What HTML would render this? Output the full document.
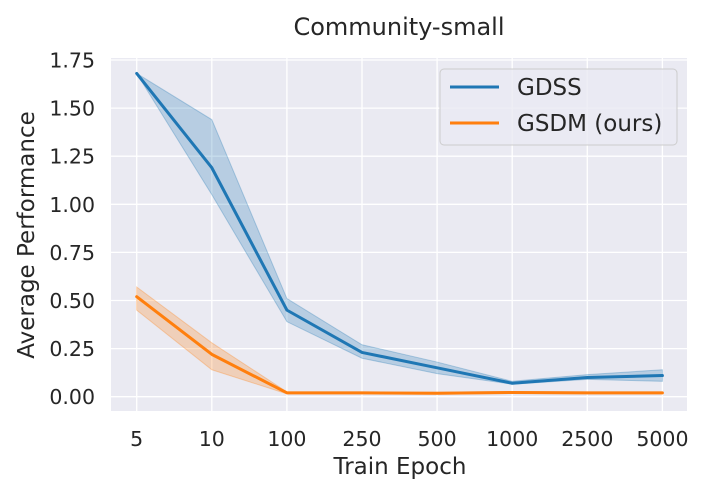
<!DOCTYPE html>
<html><head><meta charset="utf-8"><style>
body{margin:0;background:#fff;}
svg{display:block;font-family:"DejaVu Sans","Liberation Sans",sans-serif;}
</style></head><body>
<svg id="chart" width="705" height="495">
<rect x="111" y="58" width="576" height="353" fill="#eaeaf2"/>
<g id="grid"></g>
<g id="bands"></g>
<g id="lines"></g>
<g id="ticks" font-size="20.5" fill="#262626"></g>
<text x="399" y="35" text-anchor="middle" font-size="24" fill="#262626">Community-small</text>
<text x="400" y="474" text-anchor="middle" font-size="23" fill="#262626">Train Epoch</text>
<text transform="translate(34,235) rotate(-90)" text-anchor="middle" font-size="23" fill="#262626">Average Performance</text>
<g>
<rect x="440" y="69" width="237" height="76" rx="4" fill="#eaeaf2" fill-opacity="0.8" stroke="#cccccc"/>
<g><line x1="450" y1="87" x2="499" y2="87" stroke="#1f77b4" stroke-width="3"/><text x="517" y="95" font-size="23" fill="#262626">GDSS</text></g>
<g><line x1="450" y1="123" x2="499" y2="123" stroke="#ff7f0e" stroke-width="3"/><text x="517" y="131" font-size="23" fill="#262626">GSDM (ours)</text></g>
</g>
</svg>
<script>
const categories=["5","10","100","250","500","1000","2500","5000"];
const gdss=[1.68,1.19,0.45,0.23,0.15,0.07,0.10,0.11];
const gdssUpper=[1.68,1.44,0.51,0.27,0.18,0.08,0.115,0.14];
const gdssLower=[1.68,1.05,0.39,0.20,0.12,0.065,0.09,0.08];
const gsdm=[0.52,0.22,0.02,0.02,0.018,0.022,0.02,0.02];
const gsdmUpper=[0.57,0.28,0.025,0.025,0.023,0.027,0.025,0.025];
const gsdmLower=[0.45,0.14,0.015,0.015,0.013,0.017,0.015,0.015];
const yTicks=[0,0.25,0.5,0.75,1.0,1.25,1.5,1.75];
const yTickLabels=["0.00","0.25","0.50","0.75","1.00","1.25","1.50","1.75"];
const NS="http://www.w3.org/2000/svg";
function xs(i){return 136.7+i*75.1;}
function ys(v){return 396.7-v*192.4;}
function mk(tag,attrs,parent){const e=document.createElementNS(NS,tag);for(const k in attrs)e.setAttribute(k,attrs[k]);parent.appendChild(e);return e;}
const grid=document.getElementById('grid'),ticks=document.getElementById('ticks'),bands=document.getElementById('bands'),lines=document.getElementById('lines');
yTicks.forEach((v,i)=>{
 const l=mk('line',{x1:111,x2:687,y1:ys(v),y2:ys(v),stroke:'#fff','stroke-width':1.3},grid);
 
 
 const t=mk('text',{x:95,y:ys(v)+7.5,'text-anchor':'end'},ticks);
 t.textContent=yTickLabels[i];
 
 
});
categories.forEach((c,i)=>{
 const l=mk('line',{x1:xs(i),x2:xs(i),y1:58,y2:411,stroke:'#fff','stroke-width':1.3},grid);
 
 
 const t=mk('text',{x:xs(i),y:446,'text-anchor':'middle'},ticks);
 t.textContent=c;
 
 
});
function band(up,lo,color,name){
 let d='';up.forEach((v,i)=>{d+=(i?'L':'M')+xs(i)+','+ys(v);});
 for(let i=lo.length-1;i>=0;i--)d+='L'+xs(i)+','+ys(lo[i]);
 const p=mk('path',{d:d+'Z',fill:color,'fill-opacity':0.25,stroke:color,'stroke-opacity':0.3},bands);
 
 
}
function line(vals,color,name){
 const p=mk('polyline',{points:vals.map((v,i)=>xs(i)+','+ys(v)).join(' '),fill:'none',stroke:color,'stroke-width':3,'stroke-linejoin':'round','stroke-linecap':'round'},lines);
 
 
}
band(gdssUpper,gdssLower,'#1f77b4','gdss-ci-band');
band(gsdmUpper,gsdmLower,'#ff7f0e','gsdm-ci-band');
line(gdss,'#1f77b4','gdss-line');
line(gsdm,'#ff7f0e','gsdm-line');
</script>
</body></html>
